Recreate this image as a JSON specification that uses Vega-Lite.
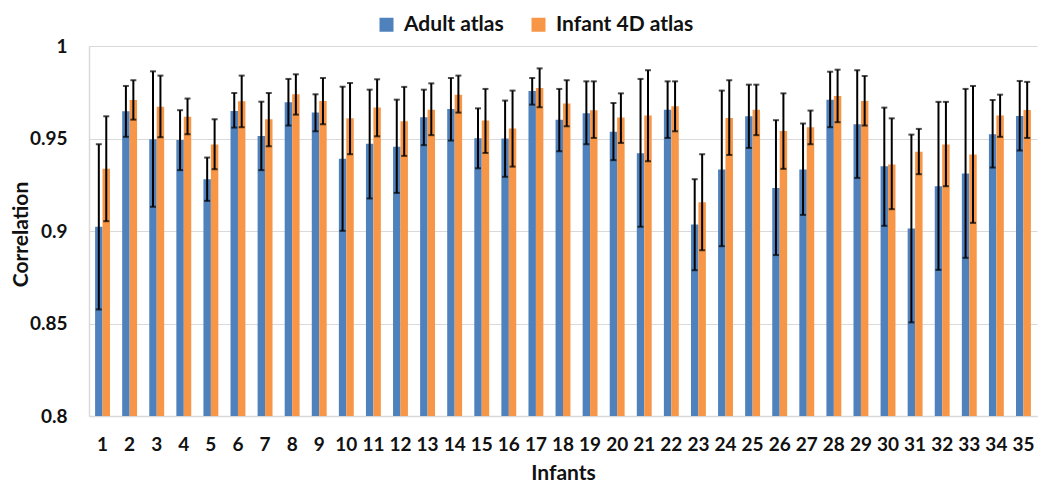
{
  "$schema": "https://vega.github.io/schema/vega-lite/v6.json",
  "width": 948,
  "height": 370,
  "autosize": {"type": "none"},
  "padding": {"left": 89, "top": 46, "right": 13, "bottom": 74},
  "background": "white",
  "config": {
    "font": "Lato",
    "view": {"stroke": null},
    "axis": {"labelFont": "Lato", "titleFont": "Lato", "labelFontWeight": "bold", "titleFontWeight": "bold", "labelColor": "#111111", "titleColor": "#111111"}
  },
  "data": {"values": [
    {"infant": 1, "atlas": "Adult atlas", "value": 0.9023, "lo": 0.8576, "hi": 0.9469},
    {"infant": 1, "atlas": "Infant 4D atlas", "value": 0.9336, "lo": 0.9053, "hi": 0.962},
    {"infant": 2, "atlas": "Adult atlas", "value": 0.9647, "lo": 0.9509, "hi": 0.9784},
    {"infant": 2, "atlas": "Infant 4D atlas", "value": 0.9708, "lo": 0.9602, "hi": 0.9815},
    {"infant": 3, "atlas": "Adult atlas", "value": 0.9496, "lo": 0.9131, "hi": 0.9863},
    {"infant": 3, "atlas": "Infant 4D atlas", "value": 0.9672, "lo": 0.9507, "hi": 0.984},
    {"infant": 4, "atlas": "Adult atlas", "value": 0.9492, "lo": 0.9329, "hi": 0.9653},
    {"infant": 4, "atlas": "Infant 4D atlas", "value": 0.9618, "lo": 0.9523, "hi": 0.9716},
    {"infant": 5, "atlas": "Adult atlas", "value": 0.928, "lo": 0.9163, "hi": 0.9397},
    {"infant": 5, "atlas": "Infant 4D atlas", "value": 0.9467, "lo": 0.9334, "hi": 0.9604},
    {"infant": 6, "atlas": "Adult atlas", "value": 0.9649, "lo": 0.9559, "hi": 0.9746},
    {"infant": 6, "atlas": "Infant 4D atlas", "value": 0.9701, "lo": 0.9561, "hi": 0.984},
    {"infant": 7, "atlas": "Adult atlas", "value": 0.9514, "lo": 0.9329, "hi": 0.9699},
    {"infant": 7, "atlas": "Infant 4D atlas", "value": 0.9604, "lo": 0.9458, "hi": 0.9746},
    {"infant": 8, "atlas": "Adult atlas", "value": 0.9696, "lo": 0.957, "hi": 0.9822},
    {"infant": 8, "atlas": "Infant 4D atlas", "value": 0.9739, "lo": 0.9629, "hi": 0.9847},
    {"infant": 9, "atlas": "Adult atlas", "value": 0.964, "lo": 0.9539, "hi": 0.9739},
    {"infant": 9, "atlas": "Infant 4D atlas", "value": 0.9703, "lo": 0.9577, "hi": 0.9827},
    {"infant": 10, "atlas": "Adult atlas", "value": 0.939, "lo": 0.9001, "hi": 0.978},
    {"infant": 10, "atlas": "Infant 4D atlas", "value": 0.9609, "lo": 0.9415, "hi": 0.98},
    {"infant": 11, "atlas": "Adult atlas", "value": 0.9471, "lo": 0.9176, "hi": 0.9764},
    {"infant": 11, "atlas": "Infant 4D atlas", "value": 0.9667, "lo": 0.9512, "hi": 0.982},
    {"infant": 12, "atlas": "Adult atlas", "value": 0.9456, "lo": 0.9206, "hi": 0.971},
    {"infant": 12, "atlas": "Infant 4D atlas", "value": 0.9593, "lo": 0.9406, "hi": 0.9779},
    {"infant": 13, "atlas": "Adult atlas", "value": 0.9615, "lo": 0.9464, "hi": 0.9764},
    {"infant": 13, "atlas": "Infant 4D atlas", "value": 0.9656, "lo": 0.9518, "hi": 0.9798},
    {"infant": 14, "atlas": "Adult atlas", "value": 0.966, "lo": 0.9489, "hi": 0.9827},
    {"infant": 14, "atlas": "Infant 4D atlas", "value": 0.9737, "lo": 0.964, "hi": 0.984},
    {"infant": 15, "atlas": "Adult atlas", "value": 0.9501, "lo": 0.9339, "hi": 0.9663},
    {"infant": 15, "atlas": "Infant 4D atlas", "value": 0.9597, "lo": 0.9422, "hi": 0.9768},
    {"infant": 16, "atlas": "Adult atlas", "value": 0.95, "lo": 0.9293, "hi": 0.9705},
    {"infant": 16, "atlas": "Infant 4D atlas", "value": 0.9554, "lo": 0.9348, "hi": 0.9759},
    {"infant": 17, "atlas": "Adult atlas", "value": 0.9757, "lo": 0.9683, "hi": 0.9827},
    {"infant": 17, "atlas": "Infant 4D atlas", "value": 0.9773, "lo": 0.9669, "hi": 0.9879},
    {"infant": 18, "atlas": "Adult atlas", "value": 0.9602, "lo": 0.9431, "hi": 0.9768},
    {"infant": 18, "atlas": "Infant 4D atlas", "value": 0.9689, "lo": 0.9566, "hi": 0.9815},
    {"infant": 19, "atlas": "Adult atlas", "value": 0.9636, "lo": 0.9469, "hi": 0.9809},
    {"infant": 19, "atlas": "Infant 4D atlas", "value": 0.9653, "lo": 0.9503, "hi": 0.9809},
    {"infant": 20, "atlas": "Adult atlas", "value": 0.9536, "lo": 0.9383, "hi": 0.9692},
    {"infant": 20, "atlas": "Infant 4D atlas", "value": 0.9613, "lo": 0.9476, "hi": 0.9744},
    {"infant": 21, "atlas": "Adult atlas", "value": 0.942, "lo": 0.9023, "hi": 0.9822},
    {"infant": 21, "atlas": "Infant 4D atlas", "value": 0.9624, "lo": 0.9377, "hi": 0.9869},
    {"infant": 22, "atlas": "Adult atlas", "value": 0.9656, "lo": 0.9503, "hi": 0.9809},
    {"infant": 22, "atlas": "Infant 4D atlas", "value": 0.9674, "lo": 0.9539, "hi": 0.9809},
    {"infant": 23, "atlas": "Adult atlas", "value": 0.9035, "lo": 0.8788, "hi": 0.928},
    {"infant": 23, "atlas": "Infant 4D atlas", "value": 0.9156, "lo": 0.8896, "hi": 0.9415},
    {"infant": 24, "atlas": "Adult atlas", "value": 0.9332, "lo": 0.8918, "hi": 0.9759},
    {"infant": 24, "atlas": "Infant 4D atlas", "value": 0.9611, "lo": 0.9411, "hi": 0.9815},
    {"infant": 25, "atlas": "Adult atlas", "value": 0.962, "lo": 0.9449, "hi": 0.9791},
    {"infant": 25, "atlas": "Infant 4D atlas", "value": 0.9656, "lo": 0.9518, "hi": 0.9791},
    {"infant": 26, "atlas": "Adult atlas", "value": 0.9233, "lo": 0.887, "hi": 0.9599},
    {"infant": 26, "atlas": "Infant 4D atlas", "value": 0.9541, "lo": 0.9336, "hi": 0.9744},
    {"infant": 27, "atlas": "Adult atlas", "value": 0.9332, "lo": 0.9087, "hi": 0.9581},
    {"infant": 27, "atlas": "Infant 4D atlas", "value": 0.9561, "lo": 0.9469, "hi": 0.9651},
    {"infant": 28, "atlas": "Adult atlas", "value": 0.971, "lo": 0.9561, "hi": 0.9861},
    {"infant": 28, "atlas": "Infant 4D atlas", "value": 0.973, "lo": 0.9588, "hi": 0.9872},
    {"infant": 29, "atlas": "Adult atlas", "value": 0.9577, "lo": 0.9287, "hi": 0.9869},
    {"infant": 29, "atlas": "Infant 4D atlas", "value": 0.9703, "lo": 0.957, "hi": 0.9838},
    {"infant": 30, "atlas": "Adult atlas", "value": 0.935, "lo": 0.9028, "hi": 0.9667},
    {"infant": 30, "atlas": "Infant 4D atlas", "value": 0.9359, "lo": 0.9118, "hi": 0.9609},
    {"infant": 31, "atlas": "Adult atlas", "value": 0.9014, "lo": 0.8506, "hi": 0.9521},
    {"infant": 31, "atlas": "Infant 4D atlas", "value": 0.9428, "lo": 0.9307, "hi": 0.9552},
    {"infant": 32, "atlas": "Adult atlas", "value": 0.9242, "lo": 0.879, "hi": 0.9698},
    {"infant": 32, "atlas": "Infant 4D atlas", "value": 0.9467, "lo": 0.9242, "hi": 0.9698},
    {"infant": 33, "atlas": "Adult atlas", "value": 0.9311, "lo": 0.8855, "hi": 0.9768},
    {"infant": 33, "atlas": "Infant 4D atlas", "value": 0.9413, "lo": 0.9044, "hi": 0.9784},
    {"infant": 34, "atlas": "Adult atlas", "value": 0.9523, "lo": 0.9343, "hi": 0.9708},
    {"infant": 34, "atlas": "Infant 4D atlas", "value": 0.9624, "lo": 0.9509, "hi": 0.9737},
    {"infant": 35, "atlas": "Adult atlas", "value": 0.9622, "lo": 0.9435, "hi": 0.9811},
    {"infant": 35, "atlas": "Infant 4D atlas", "value": 0.9654, "lo": 0.9503, "hi": 0.9806}
  ]},
  "encoding": {
    "x": {
      "field": "infant", "type": "ordinal", "title": "Infants",
      "scale": {"paddingInner": 0.45, "paddingOuter": 0.225},
      "axis": {"labelAngle": 0, "ticks": false, "domainColor": "#D9D9D9", "domainWidth": 1.5, "labelFontSize": 19, "labelPadding": 19, "titleFontSize": 21, "titleY": 57, "titleBaseline": "middle", "grid": false}
    },
    "xOffset": {"field": "atlas", "type": "nominal", "sort": ["Adult atlas", "Infant 4D atlas"]}
  },
  "layer": [
    {
      "mark": {"type": "bar"},
      "encoding": {
        "y": {
          "field": "value", "type": "quantitative", "title": "Correlation",
          "scale": {"domain": [0.8, 1], "zero": false, "nice": false},
          "axis": {"values": [0.8, 0.85, 0.9, 0.95, 1], "format": "~g", "ticks": false, "domainColor": "#D9D9D9", "domainWidth": 1.5, "gridColor": "#D9D9D9", "gridWidth": 1.2, "labelFontSize": 19, "labelPadding": 22, "titleFontSize": 21, "titleX": -68, "titleY": 188, "titleBaseline": "middle"}
        },
        "y2": {"datum": 0.8},
        "color": {
          "field": "atlas", "type": "nominal",
          "scale": {"domain": ["Adult atlas", "Infant 4D atlas"], "range": ["#4F81BD", "#F79646"]},
          "legend": {"title": null, "orient": "none", "direction": "horizontal", "legendX": 287, "legendY": -32, "symbolType": "square", "symbolSize": 196, "symbolStrokeWidth": 0, "labelFont": "Lato", "labelFontWeight": "bold", "labelFontSize": 21, "labelColor": "#111111", "labelOffset": 7, "columnPadding": 24}
        }
      }
    },
    {
      "mark": {"type": "rule", "color": "black", "strokeWidth": 2},
      "encoding": {
        "y": {"field": "lo", "type": "quantitative"},
        "y2": {"field": "hi"}
      }
    },
    {
      "mark": {"type": "tick", "color": "black", "thickness": 2, "size": 6},
      "encoding": {"y": {"field": "hi", "type": "quantitative"}}
    },
    {
      "mark": {"type": "tick", "color": "black", "thickness": 2, "size": 6},
      "encoding": {"y": {"field": "lo", "type": "quantitative"}}
    }
  ]
}
